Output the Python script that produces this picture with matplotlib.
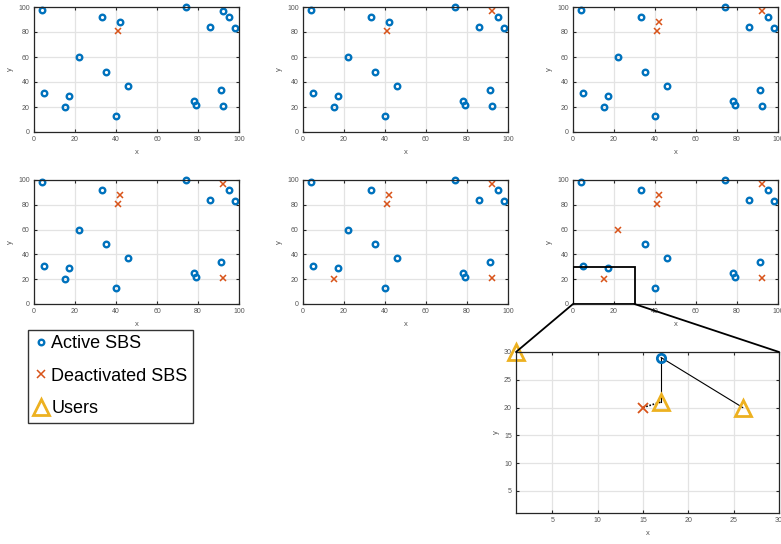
import matplotlib.pyplot as plt
from matplotlib.lines import Line2D
from matplotlib.patches import Rectangle, ConnectionPatch

# SBS positions (same layout in every panel)
sbs_x = [4, 33, 42, 41, 74, 92, 95, 86, 98, 22, 35, 46, 5, 17, 15, 40, 78, 79, 91, 92]
sbs_y = [98, 92, 88, 81, 100, 97, 92, 84, 83, 60, 48, 37, 31, 29, 20, 13, 25, 22, 34, 21]
# order in which SBSs get switched off (panel k shows the first k+1 off)
off_order = [3, 5, 2, 19, 14, 9]

# zoomed region (bottom-left of last panel)
user_x = [1, 17, 26]
user_y = [30, 21, 20]
link_active = (17, 29)
link_users = [(17, 21), (26, 20)]
link_off = [(15, 20), (17, 21)]

BLUE = '#0072BD'
RED = '#D95319'
YELLOW = '#EDB120'
AXC = '#262626'

plt.rcParams['font.family'] = ['Liberation Sans', 'DejaVu Sans']

W, H = 781, 544
fig = plt.figure(figsize=(W / 100, H / 100), dpi=100)


def px_axes(x0, y0, x1, y1):
    return fig.add_axes([x0 / W, 1 - y1 / H, (x1 - x0) / W, (y1 - y0) / H])


def style(ax, ticks, fs=5):
    ax.grid(True, color='#e3e3e3', lw=0.9)
    ax.set_axisbelow(True)
    ax.set_xticks(ticks)
    ax.set_yticks(ticks)
    ax.tick_params(direction='in', length=2.5, width=0.8, top=True, right=True,
                   labelsize=fs, colors=AXC, labelcolor='#555555', pad=3)
    for s in ax.spines.values():
        s.set_color(AXC)
        s.set_linewidth(0.9)
    ax.set_xlabel('x', fontsize=fs + 0.5, color='#555555', labelpad=4)
    ax.set_ylabel('y', fontsize=fs + 0.5, color='#555555', labelpad=3)


cols = [(34, 239), (303, 508), (573, 778)]
rows = [(7, 132), (180, 304)]

axes = []
for k in range(6):
    r, c = divmod(k, 3)
    ax = px_axes(cols[c][0], rows[r][0], cols[c][1], rows[r][1])
    off = off_order[:k + 1]
    on = [i for i in range(len(sbs_x)) if i not in off]
    ax.plot([sbs_x[i] for i in on], [sbs_y[i] for i in on], 'o', ms=4, mew=1.7,
            mfc='none', mec=BLUE, clip_on=False)
    ax.plot([sbs_x[i] for i in off], [sbs_y[i] for i in off], 'x', ms=5, mew=1.1,
            color=RED, clip_on=False)
    ax.set_xlim(0, 100)
    ax.set_ylim(0, 100)
    style(ax, [0, 20, 40, 60, 80, 100])
    axes.append(ax)

ax6 = axes[-1]
ax6.add_patch(Rectangle((0, 0), 30, 30, fill=False, ec='k', lw=1.3, zorder=5))

# zoomed inset
axi = px_axes(516, 352, 779, 513)
axi.plot([link_active[0], link_users[0][0]], [link_active[1], link_users[0][1]],
         color='k', lw=0.8)
axi.plot([link_active[0], link_users[1][0]], [link_active[1], link_users[1][1]],
         color='k', lw=0.8)
axi.plot([p[0] for p in link_off], [p[1] for p in link_off], color='k', lw=1.2,
         ls=(0, (1, 1)))
axi.plot(user_x, user_y, '^', ms=11, mew=2, mfc='none', mec=YELLOW, clip_on=False)
axi.plot([link_active[0]], [link_active[1]], 'o', ms=6, mew=2, mfc='none', mec=BLUE,
         clip_on=False)
axi.plot([link_off[0][0]], [link_off[0][1]], 'x', ms=7, mew=1.3, color=RED)
axi.set_xlim(1, 30)
axi.set_ylim(1, 30)
style(axi, [5, 10, 15, 20, 25, 30])

for xa, xb in [((0, 0), (1, 30)), ((30, 0), (30, 30))]:
    con = ConnectionPatch(xyA=xa, coordsA=ax6.transData, xyB=xb, coordsB=axi.transData,
                          color='k', lw=1.3)
    fig.add_artist(con)

handles = [
    Line2D([], [], ls='none', marker='o', ms=4, mew=1.7, mfc='none', mec=BLUE),
    Line2D([], [], ls='none', marker='x', ms=6, mew=1.1, color=RED),
    Line2D([], [], ls='none', marker='^', ms=12, mew=2, mfc='none', mec=YELLOW),
]
leg = fig.legend(handles, ['Active SBS', 'Deactivated SBS', 'Users'],
                 loc='upper left', bbox_to_anchor=(28 / W, 1 - 330 / H),
                 prop={'family': ['Liberation Sans Narrow', 'Liberation Sans'], 'size': 13},
                 frameon=True, fancybox=False, edgecolor='#333333', framealpha=1,
                 borderpad=0.3, handlelength=0.8, handletextpad=0.2,
                 labelspacing=0.85, borderaxespad=0)
leg.get_frame().set_linewidth(1.0)
leg.set_zorder(20)

fig.savefig('out.png', dpi=100)
